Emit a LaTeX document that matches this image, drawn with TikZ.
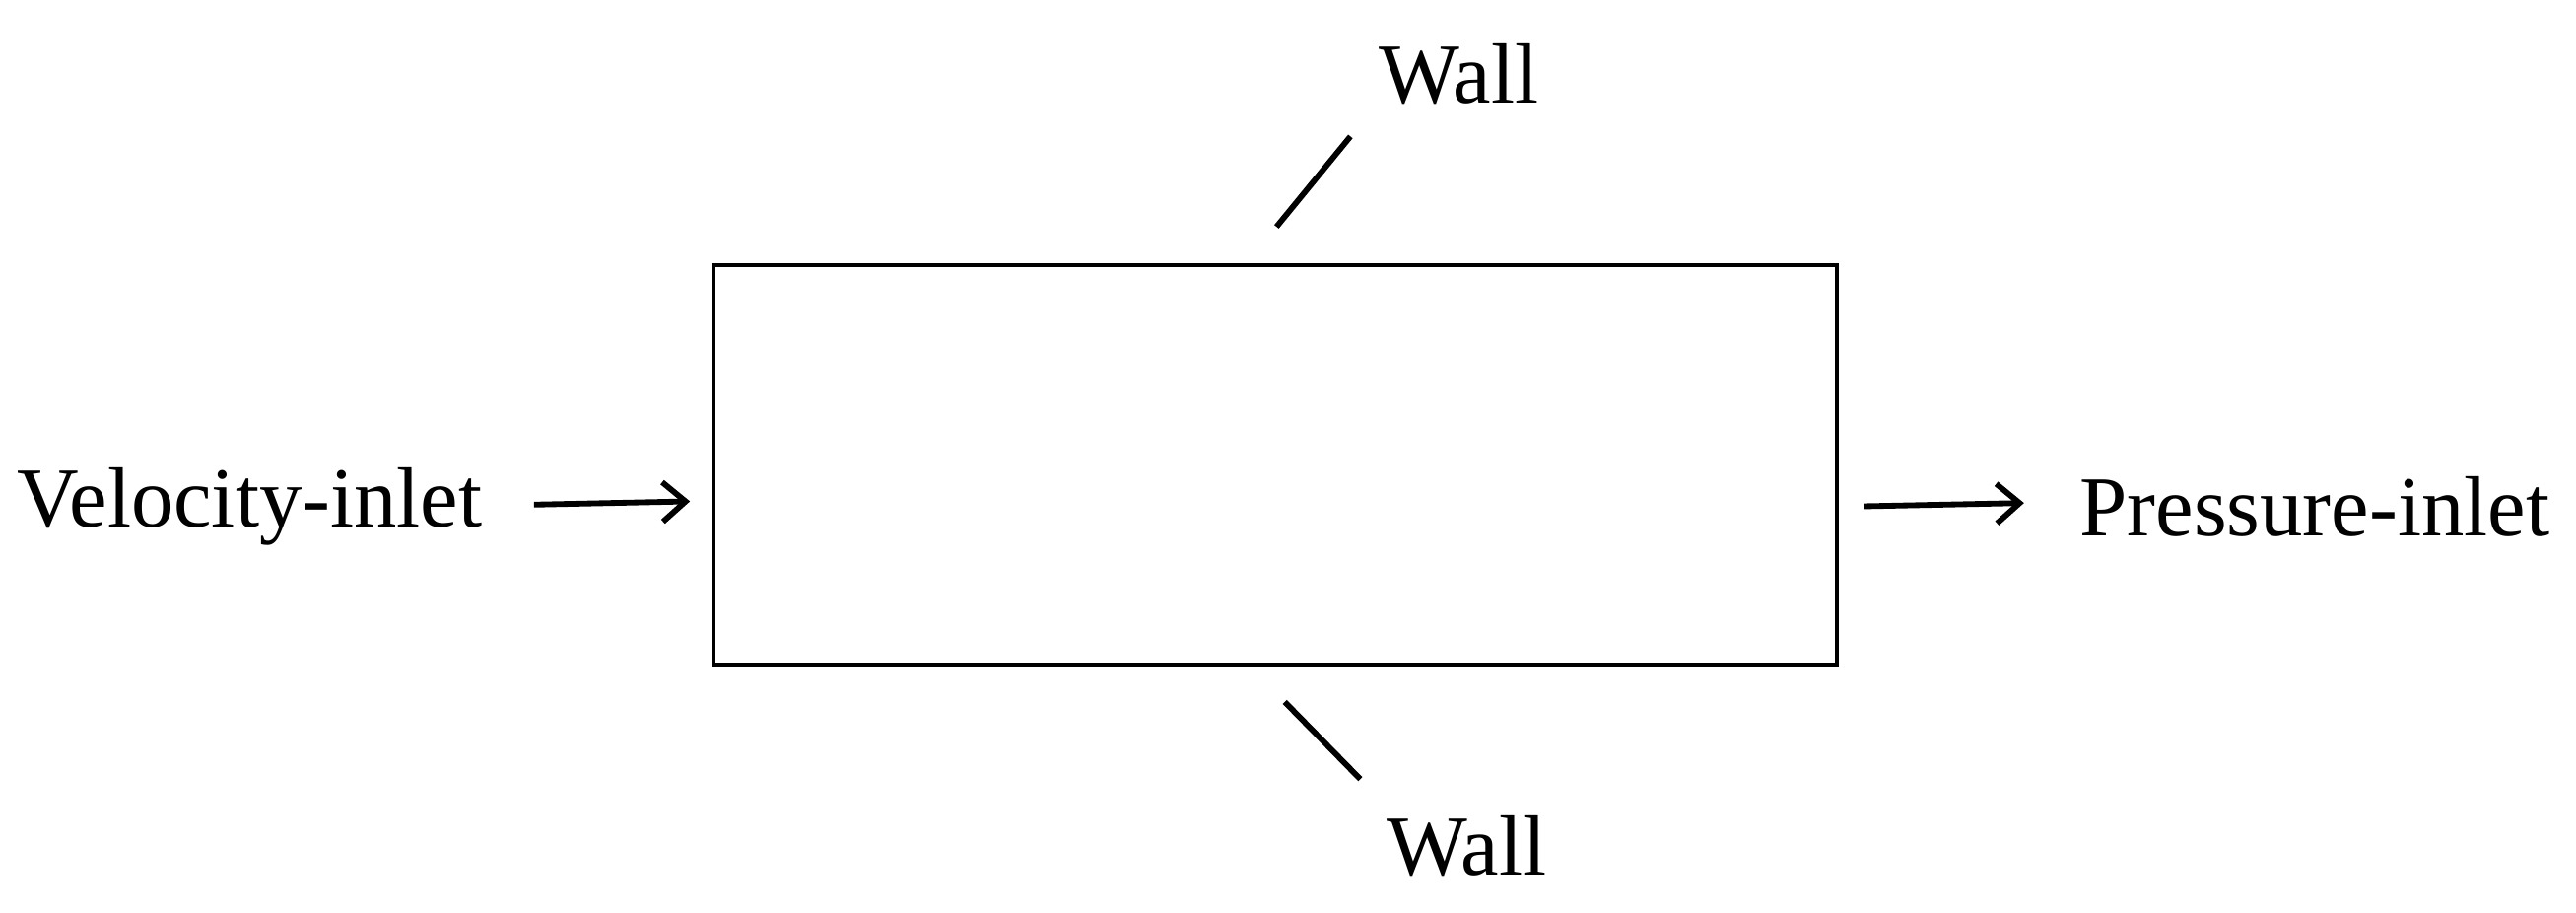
\documentclass[tikz,border=0pt]{standalone}
\usepackage{fontspec}
\setmainfont{Liberation Serif}
\usetikzlibrary{arrows.meta}
\begin{document}
\begin{tikzpicture}[x=1pt,y=-1pt,
  lab/.style={font=\fontsize{52}{54}\selectfont, inner sep=0pt},
  ln/.style={line width=3.5pt},
  arr/.style={line width=3.5pt,-{Straight Barb[length=14pt,width=24pt,line width=3.5pt]}}]
\useasboundingbox (0,0) rectangle (1568,555);
\node[draw,line width=2.5pt,minimum width=684pt,minimum height=243pt,anchor=north west,inner sep=0pt] (box) at (433,160) {};
\node[lab] (wt) at (888,45) {Wall};
\node[lab] (wb) at (893,515) {Wall};
\node[lab] (vi) at (152,308) {Velocity-inlet};
\node[lab] (pi) at (1409,308) {Pressure-inlet};
\coordinate (t1) at (777,138); \coordinate (t2) at (822,83);
\coordinate (b1) at (782,427); \coordinate (b2) at (828,474);
\coordinate (l1) at (325,307); \coordinate (l2) at (420,305);
\coordinate (r1) at (1135,308); \coordinate (r2) at (1232,306);
\draw[ln] (t1) -- (t2);
\draw[ln] (b1) -- (b2);
\draw[arr] (l1) -- (l2);
\draw[arr] (r1) -- (r2);
\end{tikzpicture}
\end{document}
